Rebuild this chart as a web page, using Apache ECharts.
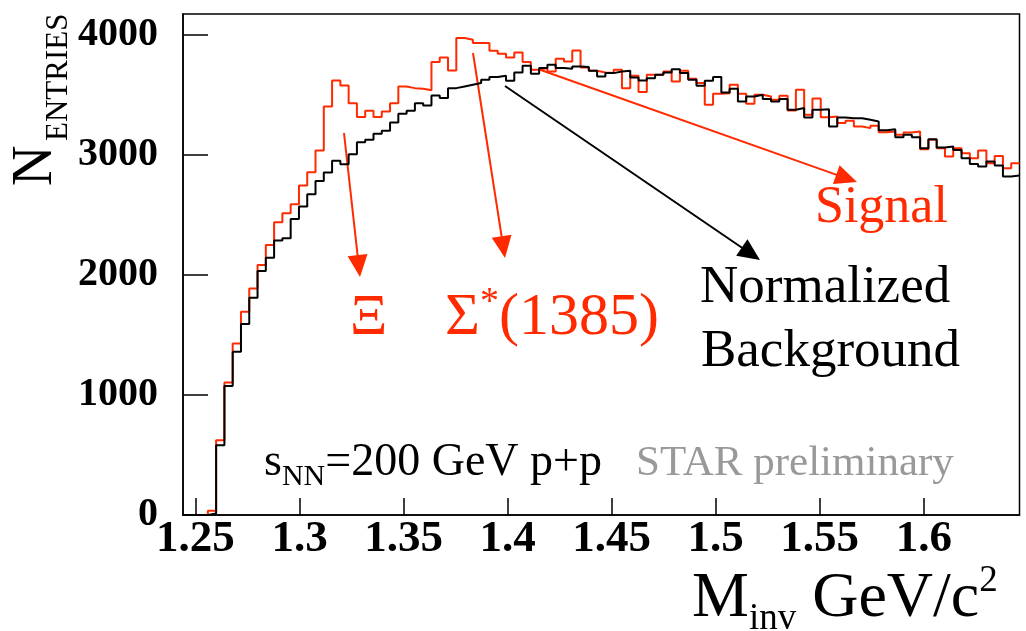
<!DOCTYPE html>
<html>
<head>
<meta charset="utf-8">
<script src="https://cdn.jsdelivr.net/npm/echarts@6/dist/echarts.min.js"></script>
<style>
  html, body { margin: 0; padding: 0; background: #ffffff; }
  #chart { width: 1026px; height: 631px; }
</style>
</head>
<body>
<div id="chart"></div>
<script>
// Λπ invariant-mass histograms: same-event signal and normalized mixed-event background
const BIN_LO = 1.244;   // GeV/c^2, lower edge of first bin
const BIN_HI = 1.646;   // GeV/c^2, upper edge of last bin

const SIGNAL = [
  0, 0, 0, 35, 623, 1103, 1428, 1692, 1886, 2081,
  2248, 2437, 2512, 2587, 2742, 2853, 3033, 3400, 3617, 3575,
  3428, 3312, 3364, 3312, 3358, 3428, 3567, 3553, 3548, 3535,
  3770, 3808, 3700, 3970, 3956, 3928, 3928, 3864, 3839, 3808,
  3850, 3770, 3706, 3720, 3692, 3798, 3775, 3867, 3725, 3697,
  3683, 3678, 3706, 3553, 3656, 3520, 3664, 3664, 3692, 3608,
  3697, 3631, 3595, 3414, 3506, 3511, 3581, 3506, 3423, 3498,
  3483, 3456, 3489, 3367, 3539, 3331, 3467, 3311, 3317, 3262,
  3281, 3233, 3220, 3239, 3186, 3192, 3164, 3183, 3192, 3045,
  3123, 3053, 2983, 3053, 3011, 2970, 3033, 2928, 2989, 2886,
  2928
];

const BACKGROUND = [
  0, 0, 0, 12, 581, 1073, 1359, 1589, 1809, 2031,
  2142, 2284, 2303, 2464, 2567, 2670, 2781, 2850, 2948, 2920,
  3003, 3103, 3123, 3173, 3198, 3267, 3339, 3364, 3428, 3408,
  3492, 3470, 3553, 3567, 3581, 3595, 3623, 3645, 3656, 3614,
  3683, 3739, 3673, 3720, 3748, 3720, 3714, 3734, 3728, 3697,
  3650, 3678, 3692, 3697, 3642, 3617, 3636, 3664, 3683, 3711,
  3678, 3623, 3572, 3614, 3645, 3517, 3548, 3442, 3483, 3498,
  3462, 3442, 3462, 3373, 3387, 3308, 3373, 3378, 3233, 3308,
  3303, 3303, 3289, 3275, 3203, 3211, 3145, 3164, 3145, 3053,
  3128, 3058, 3067, 3039, 2970, 2922, 2900, 2942, 2908, 2817,
  2825
];

const X_TICKS = [1.25, 1.3, 1.35, 1.4, 1.45, 1.5, 1.55, 1.6];
const Y_TICKS = [0, 1000, 2000, 3000, 4000];
const Y_MAX = 4170;

const RED = '#ff2a00';
const GREY = '#999999';
const SERIF = '"Liberation Serif", "Times New Roman", serif';

// bin contents -> points on the left bin edges, closed at the last upper edge
function stepPoints(values) {
  const w = (BIN_HI - BIN_LO) / values.length;
  const pts = values.map((v, i) => [BIN_LO + i * w, v]);
  pts.push([BIN_HI, values[values.length - 1]]);
  return pts;
}

// text measuring, used to chain runs with sub/superscripts
const measureCtx = document.createElement('canvas').getContext('2d');
function fontOf(size, weight) {
  return (weight || 'normal') + ' ' + size + 'px ' + SERIF;
}
function widthOf(text, size, weight) {
  measureCtx.font = fontOf(size, weight);
  return measureCtx.measureText(text).width;
}
const MID = 0.3375; // canvas 'middle' sits this fraction of the size above the baseline

// horizontal run of text pieces; each piece: [text, size, baselineShift, color, weight]
function textRun(pieces, x0, baseline) {
  const out = [];
  let x = x0;
  pieces.forEach(([text, size, shift, color, weight]) => {
    out.push({
      type: 'text', x: x, y: baseline + (shift || 0) - MID * size, silent: true,
      style: {
        text: text, font: fontOf(size, weight), fill: color,
        textAlign: 'left', textVerticalAlign: 'middle',
        align: 'left', verticalAlign: 'middle'
      }
    });
    x += widthOf(text, size, weight);
  });
  return out;
}

// text read bottom-to-top; baselineX is the screen x of the baseline, yStart the starting edge
function verticalText(text, size, baselineX, yStart, color) {
  return {
    type: 'text', x: baselineX - MID * size, y: yStart, rotation: Math.PI / 2, silent: true,
    style: {
      text: text, font: fontOf(size), fill: color,
      textAlign: 'left', textVerticalAlign: 'middle',
      align: 'left', verticalAlign: 'middle'
    }
  };
}

function arrow(x1, y1, x2, y2, color) {
  const len = Math.hypot(x2 - x1, y2 - y1);
  const ux = (x2 - x1) / len, uy = (y2 - y1) / len;
  const headLen = 22, headHalf = 10;
  const bx = x2 - ux * headLen, by = y2 - uy * headLen;
  return [
    { type: 'line', silent: true,
      shape: { x1: x1, y1: y1, x2: bx + ux * 2, y2: by + uy * 2 },
      style: { stroke: color, lineWidth: 2 } },
    { type: 'polygon', silent: true,
      shape: { points: [[x2, y2], [bx - uy * headHalf, by + ux * headHalf], [bx + uy * headHalf, by - ux * headHalf]] },
      style: { fill: color } }
  ];
}

const graphics = [].concat(
  // y-axis title: N_ENTRIES
  [verticalText('N', 56, 55, 186, '#000'), verticalText('ENTRIES', 31, 69, 141, '#000')],
  // x-axis title: M_inv GeV/c^2
  textRun([
    ['M', 64, 0, '#000'],
    ['inv', 37, 11, '#000'],
    [' GeV/c', 64, 0, '#000'],
    ['2', 37, -27, '#000']
  ], 692, 621),
  // resonance labels
  textRun([['Ξ', 58, 0, RED]], 350, 338),
  textRun([
    ['Σ', 60, 0, RED],
    ['*', 38, -22, RED],
    ['(1385)', 60, 0, RED]
  ], 445, 338),
  // series labels
  textRun([['Signal', 52, 0, RED]], 815, 226),
  textRun([['Normalized', 53, 0, '#000']], 700, 306),
  textRun([['Background', 53, 0, '#000']], 701, 370),
  // collision system and status
  textRun([
    ['s', 46, 0, '#000'],
    ['NN', 30, 9, '#000'],
    ['=200 GeV p+p', 46, 0, '#000']
  ], 264, 478),
  textRun([['STAR preliminary', 43, 0, GREY]], 636, 478),
  // pointers
  arrow(344, 133, 360, 277, RED),
  arrow(473, 53, 505, 258, RED),
  arrow(505, 86, 760, 260, '#000'),
  arrow(538, 69, 857, 182, RED)
);

const chart = echarts.init(document.getElementById('chart'), null, { renderer: 'canvas' });
chart.setOption({
  animation: false,
  backgroundColor: '#ffffff',
  grid: {
    left: 183, right: 6.5, top: 14, bottom: 116,
    containLabel: false, outerBoundsMode: 'none',
    show: true, borderColor: '#000', borderWidth: 1.5, backgroundColor: 'transparent'
  },
  xAxis: {
    type: 'value', min: BIN_LO, max: BIN_HI,
    axisLine: { show: true, onZero: false, lineStyle: { color: '#000', width: 1.5 } },
    axisTick: { show: true, inside: true, length: 17, customValues: X_TICKS, lineStyle: { color: '#000', width: 1.5 } },
    splitLine: { show: false },
    axisLabel: {
      customValues: X_TICKS, margin: 2,
      formatter: v => String(v),
      color: '#000', fontFamily: SERIF, fontWeight: 'bold', fontSize: 45
    }
  },
  yAxis: {
    type: 'value', min: 0, max: Y_MAX,
    axisLine: { show: true, onZero: false, lineStyle: { color: '#000', width: 1.5 } },
    axisTick: { show: true, inside: true, length: 25, customValues: Y_TICKS, lineStyle: { color: '#000', width: 1.5 } },
    splitLine: { show: false },
    axisLabel: {
      customValues: Y_TICKS, margin: 25,
      formatter: v => String(v),
      color: '#000', fontFamily: SERIF, fontWeight: 'bold', fontSize: 40
    }
  },
  series: [
    {
      name: 'Signal', type: 'line', step: 'end', data: stepPoints(SIGNAL),
      showSymbol: false, symbol: 'none', clip: true,
      lineStyle: { color: RED, width: 2 }, z: 2
    },
    {
      name: 'Normalized Background', type: 'line', step: 'end', data: stepPoints(BACKGROUND),
      showSymbol: false, symbol: 'none', clip: true,
      lineStyle: { color: '#000', width: 2 }, z: 3
    }
  ],
  graphic: { elements: graphics }
});
</script>
</body>
</html>
